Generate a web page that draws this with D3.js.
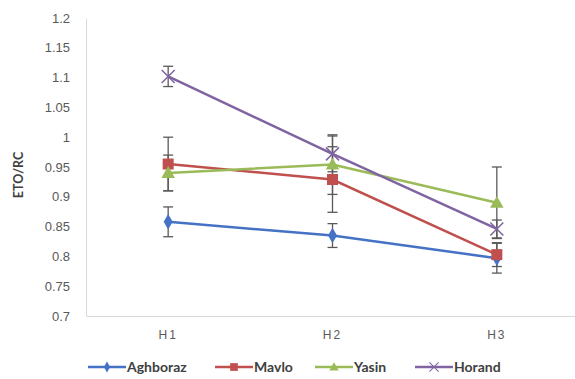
<!DOCTYPE html>
<html>
<head>
<meta charset="utf-8">
<style>
  body { margin: 0; background: #fff; }
  svg { display: block; font-family: Lato, "Open Sans", sans-serif; }
</style>
</head>
<body>
<svg id="chart"></svg>
<script src="https://cdnjs.cloudflare.com/ajax/libs/d3/7.8.5/d3.min.js"></script>
<script>
// categories and tick values
var cats = ["H1", "H2", "H3"];
var yTicks = [0.7, 0.75, 0.8, 0.85, 0.9, 0.95, 1, 1.05, 1.1, 1.15, 1.2];

// series values and their error bars (+/-)
var names = ["Aghboraz", "Mavlo", "Yasin", "Horand"];
var aghboraz = [0.858, 0.835, 0.797];
var aghborazErr = [0.025, 0.02, 0.025];
var mavlo = [0.955, 0.929, 0.803];
var mavloErr = [0.045, 0.055, 0.02];
var yasin = [0.94, 0.954, 0.89];
var yasinErr = [0.03, 0.05, 0.06];
var horand = [1.102, 0.972, 0.846];
var horandErr = [0.017, 0.03, 0.015];

var colors = ["#4472c4", "#c0504d", "#9bbb59", "#8064a2"];
var symbols = ["diamond", "square", "triangle", "x"];

var width = 575, height = 379;
var padding = {top: 18, right: 0, bottom: 63, left: 86};

var svg = d3.select("#chart").attr("width", width).attr("height", height);

var xScale = d3.scaleBand().domain(cats).range([padding.left, width - padding.right + 4]);
var yScale = d3.scaleLinear().domain([0.7, 1.2]).range([height - padding.bottom, padding.top]);

// y axis: labels only plus a light line
var yAxis = d3.axisLeft(yScale).tickValues(yTicks).tickSize(0).tickPadding(16)
  .tickFormat(function(d){ return String(+d.toFixed(2)); });
var gy = svg.append("g").attr("transform", "translate(" + padding.left + ",0)").call(yAxis);
gy.select(".domain").attr("stroke", "#d9d9d9");
gy.selectAll("text").attr("fill", "#595959").style("font-size", "13px");

// x axis
var xAxis = d3.axisBottom(xScale).tickSize(0).tickPadding(14);
var gx = svg.append("g").attr("transform", "translate(0," + yScale(0.7) + ")").call(xAxis);
gx.select(".domain").attr("stroke", "#d9d9d9");
gx.selectAll("text").attr("fill", "#595959").style("font-size", "12px").style("letter-spacing", "2px");

// y title
svg.append("text")
  .attr("transform", "translate(23," + (yScale(0.95) + 8) + ") rotate(-90)")
  .attr("text-anchor", "middle")
  .attr("fill", "#404040")
  .style("font-size", "12.5px").style("font-weight", "bold")
  .text("ETO/RC");

var series = [
  {name: names[0], vals: aghboraz, err: aghborazErr},
  {name: names[1], vals: mavlo, err: mavloErr},
  {name: names[2], vals: yasin, err: yasinErr},
  {name: names[3], vals: horand, err: horandErr}
];

function cx(i){ return xScale(cats[i]) + xScale.bandwidth() / 2; }

// error bars
series.forEach(function(s){
  var g = svg.append("g").attr("stroke", "#595959").attr("stroke-width", 1.3);
  s.vals.forEach(function(v, i){
    var x = cx(i), e = s.err[i];
    g.append("line").attr("x1", x).attr("x2", x).attr("y1", yScale(v + e)).attr("y2", yScale(v - e));
    g.append("line").attr("x1", x - 5).attr("x2", x + 5).attr("y1", yScale(v + e)).attr("y2", yScale(v + e));
    g.append("line").attr("x1", x - 5).attr("x2", x + 5).attr("y1", yScale(v - e)).attr("y2", yScale(v - e));
  });
});

function drawMarker(g, type, x, y, color){
  if (type === "diamond") {
    g.append("path").attr("d", d3.symbol(d3.symbolDiamond, 70)()).attr("transform", "translate(" + x + "," + y + ")").attr("fill", color);
  } else if (type === "square") {
    g.append("rect").attr("x", x - 5.5).attr("y", y - 5.5).attr("width", 11).attr("height", 11).attr("fill", color);
  } else if (type === "triangle") {
    g.append("path").attr("d", d3.symbol(d3.symbolTriangle, 80)()).attr("transform", "translate(" + x + "," + (y + 1) + ")").attr("fill", color);
  } else {
    g.append("path").attr("d", "M-6.5,-6.5L6.5,6.5M-6.5,6.5L6.5,-6.5").attr("transform", "translate(" + x + "," + y + ")")
      .attr("stroke", color).attr("stroke-width", 1.5).attr("fill", "none");
  }
}

var line = d3.line().x(function(d, i){ return cx(i); }).y(function(d){ return yScale(d); });

series.forEach(function(s, k){
  svg.append("path").attr("d", line(s.vals)).attr("fill", "none")
    .attr("stroke", colors[k]).attr("stroke-width", 2.5);
  var g = svg.append("g");
  s.vals.forEach(function(v, i){ drawMarker(g, symbols[k], cx(i), yScale(v), colors[k]); });
});

// legend
var legendX = [88, 215, 315, 415];
var legendY = 367;
series.forEach(function(s, k){
  var g = svg.append("g").attr("transform", "translate(" + legendX[k] + "," + legendY + ")");
  g.append("line").attr("x1", 0).attr("x2", 38).attr("y1", 0).attr("y2", 0)
    .attr("stroke", colors[k]).attr("stroke-width", 2.5);
  var mg = g.append("g").attr("transform", "translate(19,0) scale(0.7)");
  drawMarker(mg, symbols[k], 0, 0, colors[k]);
  g.append("text").attr("x", 39).attr("y", 0).attr("dy", "0.35em")
    .attr("fill", "#404040").style("font-size", "14px").style("font-weight", "bold")
    .text(s.name);
});
</script>
</body>
</html>
